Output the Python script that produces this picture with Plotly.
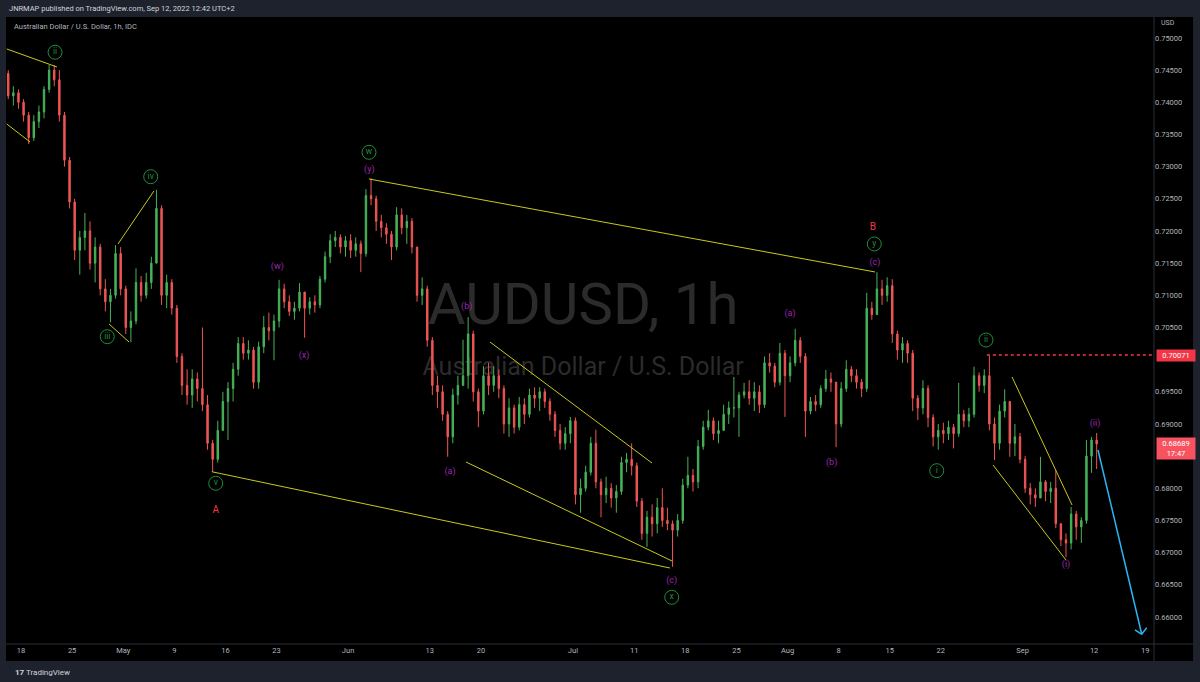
import plotly.graph_objects as go

# ---------------- data (half-day candles) ----------------
FIRST_OPEN = 0.7445
close = [
    0.7410, 0.7415, 0.7400, 0.7380, 0.7345, 0.7370, 0.7385, 0.7420, 0.7450, 0.7435,
    0.7380, 0.7310, 0.7245, 0.7170, 0.7190, 0.7200, 0.7150, 0.7175, 0.7110, 0.7090,
    0.7100, 0.7165, 0.7110, 0.7050, 0.7060, 0.7120, 0.7100, 0.7120, 0.7150, 0.7235,
    0.7100, 0.7120, 0.7080, 0.7005, 0.6960, 0.6945, 0.6970, 0.6955, 0.6930, 0.6870,
    0.6845, 0.6890, 0.6935, 0.6955, 0.6985, 0.7025, 0.7010, 0.7015, 0.6965, 0.7020,
    0.7050, 0.7045, 0.7060, 0.7110, 0.7090, 0.7075, 0.7080, 0.7105, 0.7080, 0.7090,
    0.7085, 0.7125, 0.7160, 0.7185, 0.7190, 0.7175, 0.7185, 0.7170, 0.7180, 0.7165,
    0.7255, 0.7250, 0.7215, 0.7205, 0.7195, 0.7175, 0.7225, 0.7205, 0.7215, 0.7175,
    0.7100, 0.7110, 0.7030, 0.6960, 0.6950, 0.6915, 0.6880, 0.6945, 0.6960, 0.6975,
    0.7040, 0.6950, 0.6920, 0.6975, 0.6960, 0.6975, 0.6955, 0.6900, 0.6925, 0.6895,
    0.6930, 0.6915, 0.6945, 0.6940, 0.6950, 0.6935, 0.6915, 0.6890, 0.6870, 0.6885,
    0.6905, 0.6790, 0.6800, 0.6825, 0.6870, 0.6810, 0.6790, 0.6800, 0.6785, 0.6795,
    0.6840, 0.6845, 0.6835, 0.6780, 0.6730, 0.6755, 0.6745, 0.6770, 0.6750, 0.6745,
    0.6735, 0.6750, 0.6805, 0.6820, 0.6810, 0.6865, 0.6895, 0.6905, 0.6885, 0.6890,
    0.6915, 0.6925, 0.6925, 0.6945, 0.6950, 0.6940, 0.6950, 0.6930, 0.6995, 0.6990,
    0.6965, 0.7010, 0.6975, 0.6995, 0.7030, 0.7005, 0.6920, 0.6935, 0.6930, 0.6955,
    0.6970, 0.6965, 0.6900, 0.6955, 0.6985, 0.6975, 0.6965, 0.6955, 0.7080, 0.7070,
    0.7110, 0.7100, 0.7115, 0.7040, 0.7015, 0.7025, 0.7010, 0.6940, 0.6925, 0.6955,
    0.6910, 0.6880, 0.6890, 0.6885, 0.6895, 0.6885, 0.6915, 0.6905, 0.6915, 0.6975,
    0.6960, 0.6975, 0.6900, 0.6870, 0.6920, 0.6935, 0.6870, 0.6880, 0.6845, 0.6800,
    0.6790, 0.6785, 0.6810, 0.6795, 0.6800, 0.6745, 0.6720, 0.6715, 0.6760, 0.6740,
    0.6750, 0.6850, 0.6875, 0.68689,
]
high = [
    0.7450, 0.7425, 0.7420, 0.7405, 0.7385, 0.7380, 0.7395, 0.7425, 0.7458, 0.7458,
    0.7450, 0.7385, 0.7315, 0.7250, 0.7200, 0.7228, 0.7215, 0.7190, 0.7180, 0.7125,
    0.7110, 0.7178, 0.7175, 0.7115, 0.7075, 0.7142, 0.7130, 0.7135, 0.7160, 0.7264,
    0.7240, 0.7132, 0.7125, 0.7085, 0.7010, 0.6985, 0.6985, 0.6980, 0.7050, 0.6945,
    0.6875, 0.6905, 0.6950, 0.6965, 0.6995, 0.7035, 0.7035, 0.7030, 0.7020, 0.7028,
    0.7068, 0.7073, 0.7070, 0.7124, 0.7118, 0.7100, 0.7090, 0.7119, 0.7105, 0.7097,
    0.7100, 0.7130, 0.7168, 0.7195, 0.7200, 0.7195, 0.7192, 0.7195, 0.7190, 0.7185,
    0.7265, 0.7282, 0.7255, 0.7225, 0.7212, 0.7200, 0.7237, 0.7235, 0.7225, 0.7220,
    0.7175, 0.7128, 0.7115, 0.7035, 0.6975, 0.6960, 0.6920, 0.6955, 0.6975, 0.7031,
    0.7066, 0.7045, 0.6955, 0.6990, 0.6995, 0.6990, 0.6985, 0.6960, 0.6940, 0.6930,
    0.6942, 0.6940, 0.6955, 0.6957, 0.6957, 0.6955, 0.6940, 0.6920, 0.6900, 0.6895,
    0.6911, 0.6910, 0.6815, 0.6835, 0.6880, 0.6891, 0.6815, 0.6818, 0.6808, 0.6805,
    0.6849, 0.6855, 0.6870, 0.6840, 0.6785, 0.6765, 0.6775, 0.6785, 0.6800, 0.6770,
    0.6750, 0.6760, 0.6815, 0.6849, 0.6830, 0.6875, 0.6905, 0.6922, 0.6910, 0.6905,
    0.6930, 0.6935, 0.6973, 0.6950, 0.6964, 0.6968, 0.6965, 0.6960, 0.7005, 0.7010,
    0.6995, 0.7026, 0.7015, 0.7005, 0.7048, 0.7035, 0.7010, 0.6942, 0.6945, 0.6960,
    0.6984, 0.6980, 0.6965, 0.6965, 0.6999, 0.6990, 0.6985, 0.6970, 0.7104, 0.7090,
    0.7136, 0.7124, 0.7128, 0.7125, 0.7045, 0.7035, 0.7030, 0.7015, 0.6945, 0.6968,
    0.6960, 0.6915, 0.6900, 0.6902, 0.6905, 0.6900, 0.6964, 0.6922, 0.6925, 0.6989,
    0.6980, 0.6985, 0.7007, 0.6910, 0.6930, 0.6954, 0.6935, 0.6900, 0.6886, 0.6850,
    0.6808, 0.6800, 0.6849, 0.6813, 0.6810, 0.6828, 0.6745, 0.6730, 0.6771, 0.6765,
    0.6755, 0.6875, 0.6880, 0.6886,
]
low = [
    0.7405, 0.7395, 0.7390, 0.7370, 0.7335, 0.7340, 0.7360, 0.7375, 0.7415, 0.7425,
    0.7370, 0.7300, 0.7235, 0.7155, 0.7132, 0.7170, 0.7140, 0.7120, 0.7100, 0.7075,
    0.7058, 0.7095, 0.7100, 0.7040, 0.7027, 0.7055, 0.7090, 0.7095, 0.7110, 0.7150,
    0.7085, 0.7080, 0.7070, 0.6995, 0.6945, 0.6930, 0.6925, 0.6935, 0.6920, 0.6860,
    0.6826, 0.6840, 0.6890, 0.6875, 0.6935, 0.6975, 0.7000, 0.7000, 0.6955, 0.6955,
    0.7010, 0.7030, 0.6999, 0.7050, 0.7080, 0.7068, 0.7062, 0.7075, 0.7034, 0.7070,
    0.7073, 0.7080, 0.7120, 0.7150, 0.7175, 0.7165, 0.7160, 0.7158, 0.7160, 0.7136,
    0.7160, 0.7240, 0.7200, 0.7190, 0.7180, 0.7155, 0.7170, 0.7195, 0.7180, 0.7165,
    0.7090, 0.7085, 0.7020, 0.6945, 0.6925, 0.6905, 0.6849, 0.6870, 0.6930, 0.6960,
    0.6955, 0.6935, 0.6895, 0.6915, 0.6945, 0.6950, 0.6940, 0.6885, 0.6880, 0.6885,
    0.6890, 0.6900, 0.6910, 0.6925, 0.6920, 0.6925, 0.6905, 0.6880, 0.6860, 0.6860,
    0.6870, 0.6775, 0.6762, 0.6795, 0.6820, 0.6800, 0.6755, 0.6777, 0.6770, 0.6762,
    0.6790, 0.6825, 0.6820, 0.6771, 0.6720, 0.6709, 0.6725, 0.6730, 0.6740, 0.6735,
    0.6678, 0.6725, 0.6745, 0.6800, 0.6795, 0.6800, 0.6860, 0.6890, 0.6875, 0.6870,
    0.6890, 0.6900, 0.6910, 0.6880, 0.6940, 0.6930, 0.6920, 0.6917, 0.6925, 0.6980,
    0.6957, 0.6960, 0.6911, 0.6965, 0.6990, 0.6995, 0.6880, 0.6915, 0.6920, 0.6925,
    0.6950, 0.6950, 0.6864, 0.6895, 0.6950, 0.6965, 0.6955, 0.6942, 0.6950, 0.7062,
    0.7075, 0.7085, 0.7090, 0.7026, 0.7000, 0.6995, 0.6995, 0.6920, 0.6906, 0.6915,
    0.6895, 0.6865, 0.6860, 0.6870, 0.6875, 0.6862, 0.6880, 0.6895, 0.6895, 0.6910,
    0.6950, 0.6948, 0.6890, 0.6844, 0.6860, 0.6910, 0.6849, 0.6850, 0.6839, 0.6793,
    0.6775, 0.6771, 0.6790, 0.6780, 0.6777, 0.6738, 0.6710, 0.6693, 0.6705, 0.6720,
    0.6715, 0.6745, 0.6824, 0.6830,
]
FIRST_SLOT = -3          # first half-day slot (0 = Mon 18 Apr, morning)

# time axis (trading-day units, 0 = Mon 18 Apr) and labels
time_tick_days = [0, 5, 10, 15, 20, 25, 32, 40, 45, 54, 60, 65, 70, 75, 80, 85, 90, 98, 105, 110]
time_tick_text = ["18", "25", "May", "9", "16", "23", "Jun", "13", "20", "Jul",
                  "11", "18", "25", "Aug", "8", "15", "22", "Sep", "12", "19"]
# price scale labels (the two covered by the price flags in the reference are left blank)
price_ticks = [0.660, 0.665, 0.670, 0.675, 0.680, 0.685, 0.690, 0.695, 0.700, 0.705,
               0.710, 0.715, 0.720, 0.725, 0.730, 0.735, 0.740, 0.745, 0.750]
price_tick_text = ["0.66000", "0.66500", "0.67000", "0.67500", "0.68000", "",
                   "0.69000", "0.69500", "", "0.70500", "0.71000", "0.71500",
                   "0.72000", "0.72500", "0.73000", "0.73500", "0.74000", "0.74500", "0.75000"]

# wave labels (text, day, price)
green_labels = [("ii", 3.33, 0.74778), ("iii", 8.44, 0.70357), ("iv", 12.69, 0.72844),
                ("v", 19.05, 0.68078), ("w", 34.05, 0.73223), ("x", 63.67, 0.66306),
                ("y", 83.49, 0.71798), ("i", 89.60, 0.68274), ("ii", 94.42, 0.70305)]
purple_labels = [("(y)", 34.08, 0.72959), ("(w)", 25.08, 0.71445), ("(x)", 27.69, 0.70057),
                 ("(b)", 43.61, 0.70823), ("(a)", 41.98, 0.68258), ("(c)", 63.67, 0.66564),
                 ("(a)", 75.24, 0.70720), ("(b)", 79.32, 0.68404), ("(c)", 83.56, 0.71507),
                 ("(i)", 102.25, 0.66808), ("(ii)", 105.09, 0.69000)]
red_labels = [("A", 19.05, 0.67652), ("B", 83.34, 0.72057)]

# drawn trend lines (day0, price0, day1, price1)
trend_lines = [
    (-1.40, 0.74829, 3.52, 0.74549),
    (-1.40, 0.73663, 0.88, 0.73383),
    (8.61, 0.70554, 10.57, 0.70274),
    (9.49, 0.71798, 13.01, 0.72622),
    (18.66, 0.68258, 63.50, 0.66761),
    (34.05, 0.72808, 83.56, 0.71363),
    (45.89, 0.70274, 61.74, 0.68393),
    (43.54, 0.68409, 63.70, 0.66870),
    (96.97, 0.69730, 102.84, 0.67741),
    (95.11, 0.68362, 102.25, 0.66885),
]
level_line = (94.5, 0.70071)
arrow = (105.38, 0.68596, 109.66, 0.65731)
last_price = 0.68689

# ---------------- figure ----------------
X_RANGE = [-1.47, 110.86]
Y_RANGE = [0.65580, 0.75326]
FONT = "Roboto"
UP, DOWN = "#46b35a", "#f05555"
YEL = "#c9c91c"
GREEN = "#1f8f3a"
PURPLE = "#9c27b0"
RED = "#f23645"
FRAME = "#1e222d"
AXTXT = "#b2b5be"
WM = "#2b2b2b"

x = [(FIRST_SLOT + i) / 2 + 0.25 for i in range(len(close))]
open_ = [FIRST_OPEN] + close[:-1]

fig = go.Figure()
fig.add_trace(go.Candlestick(
    x=x, open=open_, high=high, low=low, close=close,
    increasing=dict(line=dict(color=UP, width=1), fillcolor=UP),
    decreasing=dict(line=dict(color=DOWN, width=1), fillcolor=DOWN),
    whiskerwidth=0, hoverinfo="skip", showlegend=False,
))

shapes = []
# frame / black chart background
shapes.append(dict(type="rect", xref="paper", yref="paper", x0=0, x1=1.034, y0=-0.0271, y1=1.0,
                   fillcolor="#000000", line=dict(width=0), layer="below"))
# watermark
shapes.append(dict(type="rect", xref="x", yref="y", x0=30, x1=80, y0=0.7050, y1=0.7135,
                   line=dict(width=0), fillcolor="rgba(0,0,0,0)", layer="below",
                   label=dict(text="AUDUSD, 1h", textposition="middle center",
                              font=dict(family=FONT, size=58, color=WM))))
shapes.append(dict(type="rect", xref="x", yref="y", x0=30, x1=80, y0=0.6970, y1=0.7015,
                   line=dict(width=0), fillcolor="rgba(0,0,0,0)", layer="below",
                   label=dict(text="Australian Dollar / U.S. Dollar", textposition="middle center",
                              font=dict(family=FONT, size=25, color=WM))))
# axis separators
shapes.append(dict(type="line", xref="paper", yref="paper", x0=0, x1=1.034, y0=0, y1=0,
                   line=dict(color="#2a2e39", width=1)))
shapes.append(dict(type="line", xref="paper", yref="paper", x0=1.0, x1=1.0, y0=-0.0271, y1=1.0,
                   line=dict(color="#2a2e39", width=1)))
for d0, p0, d1, p1 in trend_lines:
    shapes.append(dict(type="line", xref="x", yref="y", x0=d0, y0=p0, x1=d1, y1=p1,
                       line=dict(color=YEL, width=1)))
shapes.append(dict(type="line", xref="x", yref="y", x0=level_line[0], x1=X_RANGE[1],
                   y0=level_line[1], y1=level_line[1], line=dict(color=RED, width=1.5, dash="dot")))
# arrow shaft + head
shapes.append(dict(type="line", xref="x", yref="y", x0=arrow[0], y0=arrow[1], x1=arrow[2], y1=arrow[3],
                   line=dict(color="#29b6f6", width=1.5)))
shapes.append(dict(type="line", xref="x", yref="y", x0=arrow[2] - 0.66, y0=arrow[3] + 0.00067,
                   x1=arrow[2], y1=arrow[3], line=dict(color="#29b6f6", width=1.5)))
shapes.append(dict(type="line", xref="x", yref="y", x0=arrow[2] + 0.49, y0=arrow[3] + 0.00103,
                   x1=arrow[2], y1=arrow[3], line=dict(color="#29b6f6", width=1.5)))

# circled green labels
fig.add_trace(go.Scatter(
    x=[g[1] for g in green_labels], y=[g[2] for g in green_labels],
    mode="markers+text", text=[g[0] for g in green_labels], textposition="middle center",
    textfont=dict(family=FONT, size=8.5, color=GREEN),
    marker=dict(symbol="circle", size=14, color="rgba(0,0,0,0)", line=dict(color=GREEN, width=1)),
    hoverinfo="skip", showlegend=False, cliponaxis=False,
))
fig.add_trace(go.Scatter(
    x=[g[1] for g in purple_labels], y=[g[2] for g in purple_labels],
    mode="text", text=[g[0] for g in purple_labels], textposition="middle center",
    textfont=dict(family=FONT, size=9, color=PURPLE), hoverinfo="skip", showlegend=False,
))
fig.add_trace(go.Scatter(
    x=[g[1] for g in red_labels], y=[g[2] for g in red_labels],
    mode="text", text=[g[0] for g in red_labels], textposition="middle center",
    textfont=dict(family=FONT, size=10, color=RED), hoverinfo="skip", showlegend=False,
))

annotations = [
    dict(text="JNRMAP published on TradingView.com, Sep 12, 2022 12:42 UTC+2", xref="paper", yref="paper",
         x=0.0005, y=1.0128, xanchor="left", yanchor="middle", showarrow=False,
         font=dict(family=FONT, size=7.5, color="#d1d4dc")),
    dict(text="Australian Dollar / U.S. Dollar, 1h, IDC", xref="paper", yref="paper",
         x=0.005, y=0.9856, xanchor="left", yanchor="middle", showarrow=False,
         font=dict(family=FONT, size=7.5, color=AXTXT)),
    dict(text="USD", xref="paper", yref="paper", x=1.0044, y=0.9904, xanchor="left", yanchor="middle",
         showarrow=False, font=dict(family=FONT, size=7, color=AXTXT)),
    dict(text="%.5f" % level_line[1], xref="paper", yref="y", x=1.0015, y=level_line[1],
         xanchor="left", yanchor="middle", showarrow=False, bgcolor=RED, borderpad=1,
         width=36, font=dict(family=FONT, size=7.5, color="#ffffff")),
    dict(text="%.5f<br>17:47" % last_price, xref="paper", yref="y", x=1.0015, y=last_price,
         xanchor="left", yanchor="middle", yshift=-5, showarrow=False, bgcolor="#f7525f", borderpad=1,
         width=36, font=dict(family=FONT, size=7.5, color="#ffffff")),
    dict(text="<b>17</b> TradingView", xref="paper", yref="paper", x=0.006, y=-0.0447,
         xanchor="left", yanchor="middle", showarrow=False,
         font=dict(family=FONT, size=8, color="#d1d4dc")),
]

fig.update_layout(
    width=1200, height=682,
    margin=dict(l=6, r=46, t=17, b=38, autoexpand=False),
    paper_bgcolor=FRAME, plot_bgcolor="#000000",
    shapes=shapes, annotations=annotations, showlegend=False,
    boxgap=0.6,
    xaxis=dict(range=X_RANGE, showgrid=False, zeroline=False, rangeslider=dict(visible=False),
               tickmode="array", tickvals=time_tick_days, ticktext=time_tick_text, ticks="",
               tickfont=dict(family=FONT, size=7.5, color=AXTXT), showline=False),
    yaxis=dict(range=Y_RANGE, side="right", showgrid=False, zeroline=False,
               tickmode="array", tickvals=price_ticks, ticktext=price_tick_text, ticks="",
               tickfont=dict(family=FONT, size=7.5, color=AXTXT), showline=False),
    hovermode=False,
)
fig.write_html("out.html")
